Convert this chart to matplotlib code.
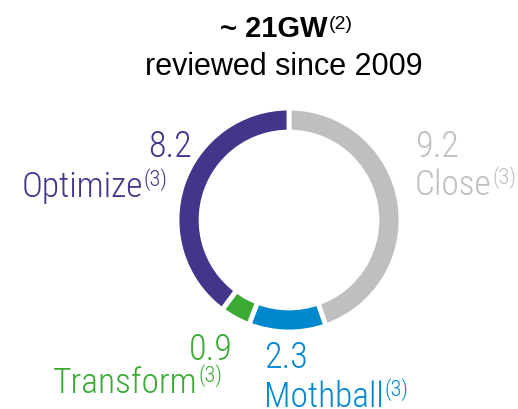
import matplotlib.pyplot as plt

W, H = 518, 410

# -----------------------------
# Data
# -----------------------------
categories = ["Close", "Mothball", "Transform", "Optimize"]
values = [9.2, 2.3, 0.9, 8.2]
colors = ["#BFBFBF", "#0088CE", "#3AAA35", "#41368A"]
total_label = "~ 21GW"
subtitle = "reviewed since 2009"

NARROW = ["Roboto Condensed", "Archivo Narrow", "DejaVu Sans"]
SANS = ["Liberation Sans", "DejaVu Sans"]


def fx(x):
    return x / W


def fy(y):
    return 1 - y / H


fig = plt.figure(figsize=(W / 100, H / 100), dpi=100)

# -----------------------------
# Donut
# -----------------------------
cx, cy, r = 289, 221, 112
ax = fig.add_axes([fx(cx - r), fy(cy + r), 2 * r / W, 2 * r / H])
ax.pie(values, colors=colors, startangle=90, counterclock=False, radius=1,
       wedgeprops=dict(width=0.215, edgecolor="white", linewidth=3.5))
ax.set_xlim(-1, 1)
ax.set_ylim(-1, 1)
ax.set_aspect("equal")
ax.axis("off")


def add_sup(t, base, text, rise, color, size, family, weight="normal", gap=0.5):
    # superscript placed right after text t, `rise` pixels above its baseline
    ax.annotate(text, xy=(1, H - base + rise), xycoords=(t, "figure pixels"),
                xytext=(gap, 0), textcoords="offset points", ha="left",
                va="baseline", color=color, fontsize=size, family=family,
                weight=weight, annotation_clip=False)


# -----------------------------
# Title
# -----------------------------
t = fig.text(fx(274), fy(37), total_label, fontsize=21, weight="bold", ha="center",
             va="baseline", family=SANS)
add_sup(t, 37, "(2)", 8, "black", 14, SANS, gap=1)
fig.text(fx(284), fy(75), subtitle, fontsize=22, ha="center", va="baseline", family=SANS)

# -----------------------------
# Labels
# -----------------------------
lab = {
    "Optimize": dict(num=(192, 157, "right"), name=(143, 197, "right")),
    "Close": dict(num=(415, 157, "left"), name=(415, 195, "left")),
    "Transform": dict(num=(233, 360, "right"), name=(198, 393, "right")),
    "Mothball": dict(num=(264, 368, "left"), name=(264, 407, "left")),
}

for cat, val, col in zip(categories, values, colors):
    nx, ny, nha = lab[cat]["num"]
    fig.text(fx(nx), fy(ny), f"{val:.1f}", color=col, fontsize=26, ha=nha,
             va="baseline", family=NARROW, weight="light")
    mx, my, mha = lab[cat]["name"]
    t = fig.text(fx(mx), fy(my), cat, color=col, fontsize=25.5, ha=mha,
                 va="baseline", family=NARROW, weight="light")
    add_sup(t, my, "(3)", 11, col, 16, NARROW, weight="light")

fig.savefig("out.png", dpi=100)
